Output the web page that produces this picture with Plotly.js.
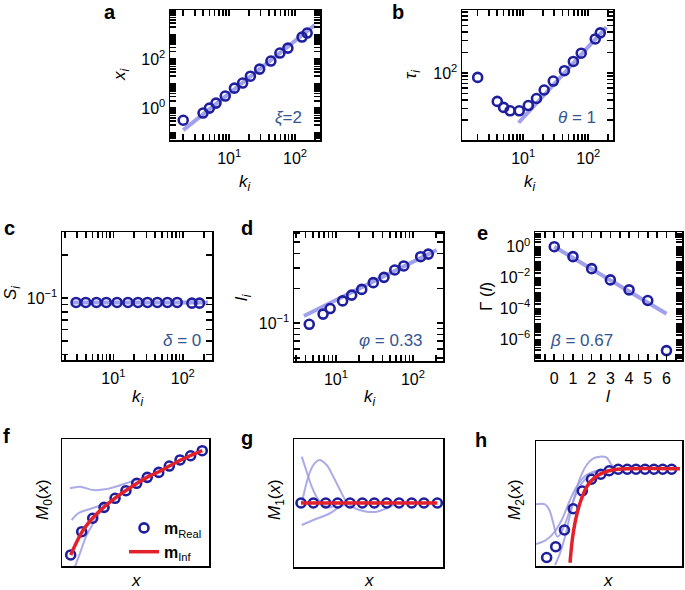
<!DOCTYPE html>
<html><head><meta charset="utf-8">
<script src="https://cdn.plot.ly/plotly-3.0.1.min.js"></script>
<style>body{margin:0;background:#fff}#chart{width:685px;height:590px}</style>
</head><body><div id="chart"></div>
<script>
// ---------- data ----------
// panel a
const kA = [2, 4, 5, 6.3, 8.7, 12, 16, 21, 29, 43, 59, 78, 128, 153];
const xiA = [0.32, 0.63, 1.0, 1.6, 3.1, 6.5, 10.5, 20, 39, 83, 176, 280, 790, 1150];
const kFitA = [2, 200];
const xiFitA = [0.126, 2450];
// panel b
const kB = [2, 4, 5, 6.3, 8.7, 12, 16, 21, 29, 43, 59, 78, 128, 153];
const tauB = [86, 38, 31, 27.6, 27.6, 33, 42, 56, 76, 108, 148, 196, 318, 391];
const kFitB = [8.5, 190];
const tauFitB = [18.4, 474];
// panel c
const kC = [2.9, 4.0, 5.7, 7.9, 11.3, 16.2, 22.6, 31, 43, 60, 83, 135, 174];
const sC = [0.093, 0.093, 0.093, 0.093, 0.093, 0.093, 0.093, 0.093, 0.093, 0.093, 0.093, 0.092, 0.092];
const kFitC = [2.5, 231];
const sFitC = [0.093, 0.093];
// panel d
const kD = [4.5, 6.8, 8.4, 12.2, 16, 21.6, 30.5, 42, 58, 76, 126, 158];
const lD = [0.098, 0.12, 0.134, 0.156, 0.175, 0.196, 0.224, 0.249, 0.288, 0.312, 0.375, 0.395];
const kFitD = [3.84, 203];
const lFitD = [0.1156, 0.428];
// panel e
const lE = [0, 1, 2, 3, 4, 5, 6];
const gammaE = [1.0, 0.226, 0.038, 0.0071, 0.0016, 3.3e-4, 1.9e-7];
const lFitE = [0, 6];
const gammaFitE = [1.0, 4.6e-5];
// panel f
const xF = [0.059, 0.134, 0.209, 0.286, 0.361, 0.435, 0.508, 0.580, 0.658, 0.730, 0.803, 0.875, 0.954];
const mRealF = [0.087, 0.270, 0.376, 0.462, 0.533, 0.593, 0.651, 0.698, 0.737, 0.787, 0.835, 0.868, 0.908];
const mInfF = [0.087, 0.265, 0.378, 0.465, 0.535, 0.595, 0.650, 0.700, 0.742, 0.787, 0.832, 0.870, 0.908];
const xF1 = [0.054, 0.122, 0.213, 0.304, 0.395, 0.463, 0.53, 0.58];
const yF1 = [0.612, 0.624, 0.598, 0.606, 0.636, 0.662, 0.685, 0.698];
const xF2 = [0.066, 0.111, 0.168, 0.236, 0.304, 0.372];
const yF2 = [0.362, 0.415, 0.441, 0.467, 0.494, 0.546];
const xF3 = [0.088, 0.122, 0.168, 0.213, 0.270, 0.327];
const yF3 = [-0.005, 0.1, 0.244, 0.336, 0.441, 0.496];
// panel g
const xG = [0.047, 0.130, 0.213, 0.293, 0.376, 0.459, 0.539, 0.622, 0.705, 0.790, 0.872, 0.962];
const mRealG = [0.5, 0.5, 0.5, 0.5, 0.5, 0.5, 0.5, 0.5, 0.5, 0.5, 0.5, 0.5];
const xRedG = [0.047, 0.962];
const mInfG = [0.5, 0.5];
const xG1 = [0.052, 0.085, 0.119, 0.157, 0.197, 0.242, 0.286];
const yG1 = [0.862, 0.745, 0.628, 0.537, 0.484, 0.466, 0.497];
const xG2 = [0.052, 0.096, 0.130, 0.170, 0.219, 0.264, 0.309, 0.353, 0.409, 0.488, 0.555, 0.622, 0.689];
const yG2 = [0.497, 0.705, 0.797, 0.836, 0.797, 0.705, 0.602, 0.510, 0.459, 0.432, 0.432, 0.459, 0.497];
const xG3 = [0.052, 0.130, 0.242, 0.309, 0.376];
const yG3 = [0.328, 0.367, 0.420, 0.471, 0.497];
// panel h
const xH = [0.073, 0.135, 0.195, 0.255, 0.317, 0.380, 0.444, 0.501, 0.563, 0.625, 0.685, 0.747, 0.808, 0.868, 0.929];
const mRealH = [0.068, 0.154, 0.288, 0.458, 0.600, 0.694, 0.734, 0.762, 0.774, 0.774, 0.774, 0.774, 0.774, 0.774, 0.774];
const xRedH = [0.233, 0.249, 0.272, 0.306, 0.351, 0.409, 0.477, 0.557, 0.986];
const mInfH = [0.026, 0.213, 0.373, 0.520, 0.640, 0.714, 0.754, 0.774, 0.778];
const xH1 = [0, 0.062, 0.091, 0.119, 0.146, 0.176, 0.221, 0.267, 0.313, 0.370, 0.438, 0.507];
const yH1 = [0.493, 0.493, 0.448, 0.341, 0.235, 0.275, 0.408, 0.555, 0.661, 0.728, 0.76, 0.768];
const xH2 = [0, 0.062, 0.119, 0.176, 0.233, 0.279, 0.336, 0.393, 0.461];
const yH2 = [0.176, 0.203, 0.261, 0.368, 0.528, 0.635, 0.72, 0.755, 0.768];
const xH3 = [0.130, 0.164, 0.199, 0.233, 0.267, 0.301, 0.347, 0.393, 0.438, 0.484, 0.518, 0.553];
const yH3 = [0.008, 0.101, 0.235, 0.408, 0.568, 0.701, 0.808, 0.861, 0.875, 0.867, 0.808, 0.773];

// tick labels
const logXTicks = [10, 100];
const logXTickText = ['10<sup>1</sup>', '10<sup>2</sup>'];
const yTicksA = [1, 100];
const yTickTextA = ['10<sup>0</sup>', '10<sup>2</sup>'];
const yTicksB = [100];
const yTickTextB = ['10<sup>2</sup>'];
const yTicksCD = [0.1];
const yTickTextCD = ['10<sup>\u22121</sup>'];
const yTicksE = [1, 0.01, 1e-4, 1e-6];
const yTickTextE = ['10<sup>0</sup>', '10<sup>\u22122</sup>', '10<sup>\u22124</sup>', '10<sup>\u22126</sup>'];
const xTicksE = [0, 1, 2, 3, 4, 5, 6];
const xTickTextE = ['0', '1', '2', '3', '4', '5', '6'];

// ---------- styling / layout ----------
const W = 685, H = 590;
const FONT = 'Liberation Sans, Arial, Helvetica, sans-serif';
const INK = 'black';
const circColor = '#1f1f9e';
const fitColor = 'rgba(145,145,232,0.85)';
const lightColor = 'rgba(150,150,226,0.8)';
const redColor = '#e3212b';
const annColor = '#34558f';

function dom(px, isX) {
  return isX ? [px[0] / W, px[1] / W] : [1 - px[1] / H, 1 - px[0] / H];
}
function baseAxis(px, isX, anchor) {
  return {domain: dom(px, isX), anchor: anchor, showline: true, linecolor: INK, linewidth: 1.5,
    mirror: 'allticks', ticks: 'inside', ticklen: 6, tickwidth: 1.6, tickcolor: INK,
    showgrid: false, zeroline: false,
    tickfont: {family: FONT, size: 16, color: INK}};
}
function labelFor(v, labVals, labText) {
  const idx = labVals.findIndex(t => Math.abs(Math.log10(t) - Math.log10(v)) < 1e-9);
  return idx >= 0 ? labText[idx] : '';
}
// log axis: a tick at every 1..9 x 10^n, only the listed decades labelled
function logAxis(px, isX, anchor, range, labVals, labText) {
  const a = baseAxis(px, isX, anchor);
  const vals = [], texts = [];
  for (let e = Math.floor(range[0]); e <= Math.ceil(range[1]); e++) {
    for (let m = 1; m <= 9; m++) {
      const v = m * Math.pow(10, e);
      vals.push(v);
      texts.push(m === 1 ? labelFor(v, labVals, labText) : '');
    }
  }
  Object.assign(a, {type: 'log', range: range, tickmode: 'array', tickvals: vals, ticktext: texts});
  if (isX) a.ticklabelstandoff = 3;
  return a;
}
function plainAxis(px, isX, anchor) {
  const a = baseAxis(px, isX, anchor);
  Object.assign(a, {range: [0, 1], ticks: '', showticklabels: false, mirror: true});
  return a;
}

const P = {
  a: {x: [170, 320], y: [10, 140]},
  b: {x: [462, 613], y: [10, 140]},
  c: {x: [62, 212], y: [232, 360]},
  d: {x: [294, 443], y: [232, 361]},
  e: {x: [535, 682], y: [232, 360]},
  f: {x: [62, 209], y: [439, 566]},
  g: {x: [294, 443], y: [439, 567]},
  h: {x: [536, 682], y: [441, 566]}
};

// panel e x ticks: integers labelled, halves unlabelled
const eXVals = [], eXText = [];
for (let i = -1; i <= 13; i++) {
  const v = i / 2;
  eXVals.push(v);
  const idx = xTicksE.indexOf(v);
  eXText.push(idx >= 0 ? xTickTextE[idx] : '');
}

const layout = {
  width: W, height: H, margin: {l: 0, r: 0, t: 0, b: 0},
  font: {family: FONT, color: INK},
  showlegend: true,
  legend: {x: 124 / W, y: 1 - 511 / H, xanchor: 'left', yanchor: 'top', bgcolor: 'rgba(0,0,0,0)',
    font: {family: FONT, size: 16, color: INK}, itemwidth: 30, tracegroupgap: 2},
  xaxis: logAxis(P.a.x, true, 'y', [0.1, 2.38], logXTicks, logXTickText),
  yaxis: logAxis(P.a.y, false, 'x', [-1.3, 4], yTicksA, yTickTextA),
  xaxis2: logAxis(P.b.x, true, 'y2', [0.06, 2.38], logXTicks, logXTickText),
  yaxis2: logAxis(P.b.y, false, 'x2', [1.01, 2.93], yTicksB, yTickTextB),
  xaxis3: logAxis(P.c.x, true, 'y3', [0.26, 2.42], logXTicks, logXTickText),
  yaxis3: logAxis(P.c.y, false, 'x3', [-1.436, -0.536], yTicksCD, yTickTextCD),
  xaxis4: logAxis(P.d.x, true, 'y4', [0.455, 2.39], logXTicks, logXTickText),
  yaxis4: logAxis(P.d.y, false, 'x4', [-1.325, -0.213], yTicksCD, yTickTextCD),
  xaxis5: Object.assign(baseAxis(P.e.x, true, 'y5'), {range: [-1.03, 6.83], tickmode: 'array',
    tickvals: eXVals, ticktext: eXText, ticklabelstandoff: 3}),
  yaxis5: logAxis(P.e.y, false, 'x5', [-7.33, 0.95], yTicksE, yTickTextE),
  xaxis6: plainAxis(P.f.x, true, 'y6'),
  yaxis6: plainAxis(P.f.y, false, 'x6'),
  xaxis7: plainAxis(P.g.x, true, 'y7'),
  yaxis7: plainAxis(P.g.y, false, 'x7'),
  xaxis8: plainAxis(P.h.x, true, 'y8'),
  yaxis8: plainAxis(P.h.y, false, 'x8')
};

function ann(x, y, text, opts) {
  return Object.assign({x: x / W, y: 1 - y / H, xref: 'paper', yref: 'paper', text: text, showarrow: false,
    xanchor: 'center', yanchor: 'middle', font: {family: FONT, size: 17, color: INK}}, opts || {});
}
const bold = {font: {family: FONT, size: 20, color: INK}};
const annColorFont = {font: {family: FONT, size: 17, color: annColor}};
layout.annotations = [
  ann(110, 12, '<b>a</b>', bold), ann(398, 12, '<b>b</b>', bold),
  ann(9, 228, '<b>c</b>', bold), ann(247, 228, '<b>d</b>', bold), ann(482, 233, '<b>e</b>', bold),
  ann(6, 436, '<b>f</b>', bold), ann(247, 438, '<b>g</b>', bold), ann(481, 440, '<b>h</b>', bold),
  // axis titles
  ann(121, 75, '<i>x<sub>i</sub></i>', {textangle: -90}), ann(245, 183, '<i>k<sub>i</sub></i>'),
  ann(412, 75, '<i>τ<sub>i</sub></i>', {textangle: -90}), ann(530, 183, '<i>k<sub>i</sub></i>'),
  ann(12, 293, '<i>S<sub>i</sub></i>', {textangle: -90}), ann(138, 398, '<i>k<sub>i</sub></i>'),
  ann(243, 297, '<i>l<sub>i</sub></i>', {textangle: -90}), ann(370, 398, '<i>k<sub>i</sub></i>'),
  ann(486, 296, 'Γ (<i>l</i>)', {textangle: -90}), ann(608, 396, '<i>l</i>'),
  ann(44, 500, '<i>M</i><sub>0</sub>(<i>x</i>)', {textangle: -90}), ann(136, 580, '<i>x</i>'),
  ann(276, 500, '<i>M</i><sub>1</sub>(<i>x</i>)', {textangle: -90}), ann(369, 580, '<i>x</i>'),
  ann(516, 500, '<i>M</i><sub>2</sub>(<i>x</i>)', {textangle: -90}), ann(608, 580, '<i>x</i>'),
  // exponents
  ann(288, 118, '<i>ξ</i>=2', annColorFont),
  ann(577, 118, '<i>θ</i> = 1', annColorFont),
  ann(182, 340, '<i>δ</i> = 0', annColorFont),
  ann(391, 340, '<i>φ</i> = 0.33', annColorFont),
  ann(581, 340, '<i>β</i> = 0.67', annColorFont)
];

// ---------- traces ----------
const circ = (x, y, xa, ya, extra) => Object.assign({x: x, y: y, xaxis: xa, yaxis: ya, type: 'scatter', mode: 'markers',
  marker: {symbol: 'circle-open', size: 9, color: circColor, line: {width: 2.6, color: circColor}}, showlegend: false,
  hoverinfo: 'skip'}, extra || {});
const fit = (x, y, xa, ya) => ({x: x, y: y, xaxis: xa, yaxis: ya, type: 'scatter', mode: 'lines',
  line: {color: fitColor, width: 4}, showlegend: false, hoverinfo: 'skip'});
const light = (x, y, xa, ya) => ({x: x, y: y, xaxis: xa, yaxis: ya, type: 'scatter', mode: 'lines',
  line: {color: lightColor, width: 2, shape: 'spline', smoothing: 1}, showlegend: false, hoverinfo: 'skip'});
const red = (x, y, xa, ya, extra) => Object.assign({x: x, y: y, xaxis: xa, yaxis: ya, type: 'scatter', mode: 'lines',
  line: {color: redColor, width: 3.5, shape: 'spline', smoothing: 0.8}, showlegend: false, hoverinfo: 'skip'}, extra || {});

const data = [
  fit(kFitA, xiFitA, 'x', 'y'), circ(kA, xiA, 'x', 'y'),
  fit(kFitB, tauFitB, 'x2', 'y2'), circ(kB, tauB, 'x2', 'y2'),
  fit(kFitC, sFitC, 'x3', 'y3'), circ(kC, sC, 'x3', 'y3'),
  fit(kFitD, lFitD, 'x4', 'y4'), circ(kD, lD, 'x4', 'y4'),
  fit(lFitE, gammaFitE, 'x5', 'y5'), circ(lE, gammaE, 'x5', 'y5'),
  light(xF1, yF1, 'x6', 'y6'), light(xF2, yF2, 'x6', 'y6'), light(xF3, yF3, 'x6', 'y6'),
  circ(xF, mRealF, 'x6', 'y6', {showlegend: true, name: '<b>m</b><sub>Real</sub>'}),
  red(xF, mInfF, 'x6', 'y6', {showlegend: true, name: '<b>m</b><sub>Inf</sub>'}),
  light(xG1, yG1, 'x7', 'y7'), light(xG2, yG2, 'x7', 'y7'), light(xG3, yG3, 'x7', 'y7'),
  circ(xG, mRealG, 'x7', 'y7'), red(xRedG, mInfG, 'x7', 'y7'),
  light(xH1, yH1, 'x8', 'y8'), light(xH2, yH2, 'x8', 'y8'), light(xH3, yH3, 'x8', 'y8'),
  circ(xH, mRealH, 'x8', 'y8'), red(xRedH, mInfH, 'x8', 'y8')
];

Plotly.newPlot('chart', data, layout, {displayModeBar: false, staticPlot: true});
</script></body></html>
